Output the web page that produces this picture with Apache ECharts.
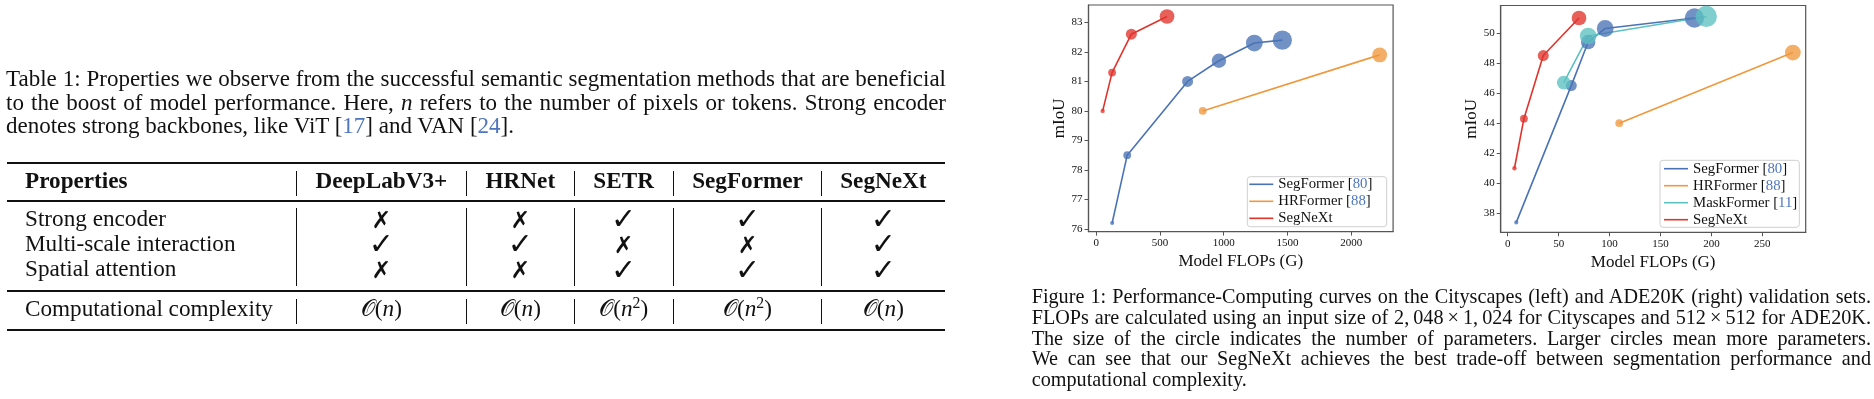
<!DOCTYPE html>
<html>
<head>
<meta charset="utf-8">
<script src="https://cdn.jsdelivr.net/npm/echarts@6/dist/echarts.min.js"></script>
<style>
html,body{margin:0;padding:0;background:#fff;}
#wrap{position:relative;width:1874px;height:399px;overflow:hidden;background:#fff;}
#chart{position:absolute;left:0;top:0;width:1874px;height:399px;}
.t{position:absolute;font-family:"Liberation Serif","Times New Roman",serif;color:#111;white-space:nowrap;}
.ref{color:#4f76bd;}
.rule{position:absolute;background:#111;}
.mk{position:absolute;font-family:"DejaVu Sans",sans-serif;font-weight:bold;color:#111;text-align:center;white-space:nowrap;}
sup.s{font-size:0.68em;position:relative;top:-0.5em;vertical-align:baseline;line-height:0;}
</style>
</head>
<body>
<div id="wrap">
  <div id="chart"></div>
  <div id="txt"></div>
</div>
<script>
// ---------------- DATA ----------------
// Cityscapes (left plot): FLOPs (G), mIoU, params (M)
const csSegFormerFlops = [125.5, 243.7, 717.1, 962.9, 1240.6, 1460.4];
const csSegFormerMiou  = [76.2, 78.5, 81.0, 81.7, 82.3, 82.4];
const csSegFormerParams = [3.8, 13.7, 27.5, 47.3, 64.1, 84.7];
const csHRFormerFlops = [835.7, 2223.8];
const csHRFormerMiou  = [80.0, 81.9];
const csHRFormerParams = [13.5, 50.3];
const csSegNeXtFlops = [51, 125, 276, 556];
const csSegNeXtMiou  = [80.0, 81.3, 82.6, 83.2];
const csSegNeXtParams = [4.3, 13.9, 27.6, 48.9];
// ADE20K (right plot)
const adeSegFormerFlops = [8.4, 62.4, 79.0, 95.7, 183.3];
const adeSegFormerMiou  = [37.4, 46.5, 49.4, 50.3, 51.0];
const adeSegFormerParams = [3.8, 27.5, 47.3, 64.1, 84.7];
const adeHRFormerFlops = [109.5, 280.0];
const adeHRFormerMiou  = [44.0, 48.7];
const adeHRFormerParams = [13.5, 56.2];
const adeMaskFormerFlops = [55, 79, 195];
const adeMaskFormerMiou  = [46.7, 49.8, 51.1];
const adeMaskFormerParams = [42, 63, 102];
const adeSegNeXtFlops = [6.6, 15.9, 34.9, 70.0];
const adeSegNeXtMiou  = [41.0, 44.3, 48.5, 51.0];
const adeSegNeXtParams = [4.3, 13.9, 27.6, 48.9];
// tick labels
const csXTicks = [0, 500, 1000, 1500, 2000];
const csYTicks = [76, 77, 78, 79, 80, 81, 82, 83];
const adeXTicks = [0, 50, 100, 150, 200, 250];
const adeYTicks = [38, 40, 42, 44, 46, 48, 50];
// legend names and citation numbers
const methodNames = ['SegFormer', 'HRFormer', 'MaskFormer', 'SegNeXt'];
const methodRefs = ['80', '88', '11', ''];
// table
const tableHeader = ['Properties', 'DeepLabV3+', 'HRNet', 'SETR', 'SegFormer', 'SegNeXt'];
const tableRowNames = ['Strong encoder', 'Multi-scale interaction', 'Spatial attention'];
const strongEncoder = [0, 0, 1, 1, 1];
const multiScale    = [1, 1, 0, 0, 1];
const spatialAttn   = [0, 0, 1, 1, 1];
const complexityRow = 'Computational complexity';
const complexityExp = [1, 1, 2, 2, 1];

// ---------------- STYLE ----------------
const FONT = '"Liberation Serif","Times New Roman",serif';
const COLORS = {SegFormer:'#4a73b6', HRFormer:'#f0983c', MaskFormer:'#5cc2c0', SegNeXt:'#e0332b'};
const REFBLUE = '#4f76bd';

// ---------------- TEXT / TABLE (HTML) ----------------
const txt = document.getElementById('txt');
function addText(html, left, baseline, fs, opts) {
  opts = opts || {};
  const d = document.createElement('div');
  d.className = 't';
  d.innerHTML = html;
  d.style.fontSize = fs + 'px';
  d.style.lineHeight = fs + 'px';
  d.style.top = (baseline - 0.8375 * fs) + 'px';
  d.style.left = left + 'px';
  if (opts.width) d.style.width = opts.width + 'px';
  if (opts.center) d.style.textAlign = 'center';
  if (opts.bold) d.style.fontWeight = 'bold';
  if (opts.justify) d.dataset.justify = '1';
  txt.appendChild(d);
  return d;
}
function addRule(x, y, w, h) {
  const d = document.createElement('div');
  d.className = 'rule';
  d.style.left = x + 'px'; d.style.top = y + 'px';
  d.style.width = w + 'px'; d.style.height = h + 'px';
  txt.appendChild(d);
}
function addMark(ch, left, width, cy, fs) {
  const d = document.createElement('div');
  d.className = 'mk';
  d.textContent = ch;
  d.style.fontSize = fs + 'px';
  d.style.lineHeight = '34px';
  d.style.height = '34px';
  d.style.top = (cy - 17) + 'px';
  d.style.left = left + 'px';
  d.style.width = width + 'px';
  txt.appendChild(d);
}

// Left caption
const CF = 23.0;
addText('Table 1: Properties we observe from the successful semantic segmentation methods that are beneficial', 6, 86.7, CF, {width:940, justify:true});
addText('to the boost of model performance. Here, <i>n</i> refers to the number of pixels or tokens. Strong encoder', 6, 110.0, CF, {width:940, justify:true});
addText('denotes strong backbones, like ViT [<span class="ref">17</span>] and VAN [<span class="ref">24</span>].', 6, 133.3, CF);

// Table
const TF = 23.2;
const colBounds = [296, 466.7, 574, 673.3, 821.7, 945];
addRule(7.3, 162.3, 937.7, 2);
addRule(7.3, 200.4, 937.7, 1.2);
addRule(7.3, 290.4, 937.7, 1.2);
addRule(7.3, 329, 937.7, 2);
const vSegs = [[170.7, 196], [208.3, 285.7], [299, 324.3]];
for (let i = 0; i < 5; i++) {
  vSegs.forEach(s => addRule(colBounds[i] - 0.5, s[0], 1, s[1] - s[0]));
}
addText(tableHeader[0], 25, 188.3, TF, {bold:true});
for (let i = 0; i < 5; i++) {
  addText(tableHeader[i + 1], colBounds[i], 188.3, TF, {bold:true, center:true, width:colBounds[i + 1] - colBounds[i]});
}
const rowBase = [226, 251.7, 276.7];
const rowMid = [219.5, 244.5, 270];
const rowVals = [strongEncoder, multiScale, spatialAttn];
tableRowNames.forEach((n, r) => {
  addText(n, 25, rowBase[r], TF);
  rowVals[r].forEach((v, i) => {
    if (v) addMark('\u2713', colBounds[i], colBounds[i + 1] - colBounds[i], rowMid[r] - 0.5, 30);
    else addMark('\u2717', colBounds[i], colBounds[i + 1] - colBounds[i], rowMid[r], 23.5);
  });
});
addText(complexityRow, 25, 316.7, TF);
complexityExp.forEach((e, i) => {
  const inner = e === 1 ? '<i>n</i>' : '<i>n</i><sup class="s">' + e + '</sup>';
  addText('\uD835\uDCAA(' + inner + ')', colBounds[i], 316.7, TF, {center:true, width:colBounds[i + 1] - colBounds[i]});
});

// Right caption
const RF = 20.2;
const rcLeft = 1031.7, rcW = 839.3;
const rcBase = [302.7, 323.6, 344.5, 365.4, 386.3];
addText('Figure 1: Performance-Computing curves on the Cityscapes (left) and ADE20K (right) validation sets.', rcLeft, rcBase[0], RF, {width:rcW, justify:true});
addText('FLOPs are calculated using an input size of 2,\u2009048\u2009\u00D7\u20091,\u2009024 for Cityscapes and 512\u2009\u00D7\u2009512 for ADE20K.', rcLeft, rcBase[1], RF, {width:rcW, justify:true});
addText('The size of the circle indicates the number of parameters.  Larger circles mean more parameters.', rcLeft, rcBase[2], RF, {width:rcW, justify:true});
addText('We can see that our SegNeXt achieves the best trade-off between segmentation performance and', rcLeft, rcBase[3], RF, {width:rcW, justify:true});
addText('computational complexity.', rcLeft, rcBase[4], RF);

// Justify fitter
document.querySelectorAll('[data-justify]').forEach(el => {
  const target = parseFloat(el.style.width);
  const baseTop = parseFloat(el.style.top);
  let fs = parseFloat(el.style.fontSize);
  const baseline = baseTop + 0.8375 * fs;
  el.style.width = 'auto';
  const w = el.getBoundingClientRect().width;
  if (w > target - 1) {
    fs = fs * (target - 1) / w;
    el.style.fontSize = fs + 'px';
    el.style.lineHeight = fs + 'px';
    el.style.top = (baseline - 0.8375 * fs) + 'px';
  }
  el.style.width = target + 'px';
  el.style.whiteSpace = 'normal';
  el.style.textAlign = 'justify';
  el.style.textAlignLast = 'justify';
});

// ---------------- CHARTS (ECharts) ----------------
function zip(xs, ys, ps) { return xs.map((x, i) => [x, ys[i], ps[i]]); }
function xAxis(gi, min, max, ticks) {
  return {
    type:'value', gridIndex:gi, min:min, max:max,
    name:'Model FLOPs (G)', nameLocation:'middle', nameGap:19,
    nameTextStyle:{fontFamily:FONT, fontSize:17, color:'#111', verticalAlign:'top'},
    axisLine:{show:true, onZero:false, lineStyle:{color:'#555', width:1.2}},
    axisTick:{show:true, inside:false, length:4, customValues:ticks, lineStyle:{color:'#555', width:1}},
    axisLabel:{show:true, customValues:ticks, margin:6, fontFamily:FONT, fontSize:11, color:'#111', formatter:v => String(v)},
    splitLine:{show:false}
  };
}
function yAxis(gi, min, max, ticks) {
  return {
    type:'value', gridIndex:gi, min:min, max:max,
    name:'mIoU', nameLocation:'middle', nameGap:20, nameRotate:90,
    nameTextStyle:{fontFamily:FONT, fontSize:17, color:'#111'},
    axisLine:{show:true, onZero:false, lineStyle:{color:'#555', width:1.2}},
    axisTick:{show:true, inside:false, length:4, customValues:ticks, lineStyle:{color:'#555', width:1}},
    axisLabel:{show:true, customValues:ticks, margin:6, fontFamily:FONT, fontSize:11, color:'#111', formatter:v => String(v)},
    splitLine:{show:false}
  };
}
function seriesPair(name, gi, xs, ys, ps) {
  const c = COLORS[name];
  const data = zip(xs, ys, ps);
  return [
    {type:'line', name:name, xAxisIndex:gi, yAxisIndex:gi, data:data, symbol:'none', showSymbol:false,
     color:c, lineStyle:{color:c, width:1.6}, itemStyle:{color:c}, silent:true, animation:false, z:2},
    {type:'scatter', name:name + ' pts', xAxisIndex:gi, yAxisIndex:gi, data:data,
     symbolSize:d => 2.1 * Math.sqrt(d[2]), itemStyle:{color:c, opacity:0.78}, silent:true, animation:false, z:2}
  ];
}
function legendFmt(name) {
  const idx = methodNames.indexOf(name);
  const r = methodRefs[idx];
  return r ? name + ' [{c|' + r + '}]' : name;
}
function legend(left, top, names, lh) {
  return {
    orient:'vertical', left:left, top:top, data:names, icon:'rect', itemWidth:24, itemHeight:1.6, itemGap:2,
    padding:0, backgroundColor:'transparent', borderWidth:0, z:5,
    selectedMode:false, formatter:legendFmt,
    textStyle:{fontFamily:FONT, fontSize:14.8, color:'#111', lineHeight:lh,
      rich:{c:{fontFamily:FONT, fontSize:14.8, color:REFBLUE, lineHeight:lh}}}
  };
}
function legendBox(x0, y0, x1, y1) {
  return {type:'rect', z:4, silent:true, shape:{x:x0, y:y0, width:x1 - x0, height:y1 - y0, r:3},
    style:{fill:'rgba(255,255,255,0.85)', stroke:'#cfcfcf', lineWidth:1}};
}

const chart = echarts.init(document.getElementById('chart'));
const option = {
  animation:false,
  backgroundColor:'transparent',
  grid:[
    {left:1088.5, top:5, width:304.6, height:226.6, show:true, borderColor:'#555', borderWidth:1.2, backgroundColor:'transparent'},
    {left:1500.7, top:5.5, width:305, height:226.8, show:true, borderColor:'#555', borderWidth:1.2, backgroundColor:'transparent'}
  ],
  xAxis:[xAxis(0, -60, 2329, csXTicks), xAxis(1, -6.9, 292.6, adeXTicks)],
  yAxis:[yAxis(0, 75.91, 83.59, csYTicks), yAxis(1, 36.74, 51.83, adeYTicks)],
  graphic:[legendBox(1247.3, 176.7, 1386.7, 226.7), legendBox(1660, 160.3, 1799.3, 227.3)],
  legend:[
    legend(1249.3, 176.8, ['SegFormer', 'HRFormer', 'SegNeXt'], 15),
    legend(1664, 161.2, ['SegFormer', 'HRFormer', 'MaskFormer', 'SegNeXt'], 13.9)
  ],
  series:[].concat(
    seriesPair('SegFormer', 0, csSegFormerFlops, csSegFormerMiou, csSegFormerParams),
    seriesPair('HRFormer', 0, csHRFormerFlops, csHRFormerMiou, csHRFormerParams),
    seriesPair('SegNeXt', 0, csSegNeXtFlops, csSegNeXtMiou, csSegNeXtParams),
    seriesPair('SegFormer', 1, adeSegFormerFlops, adeSegFormerMiou, adeSegFormerParams),
    seriesPair('HRFormer', 1, adeHRFormerFlops, adeHRFormerMiou, adeHRFormerParams),
    seriesPair('MaskFormer', 1, adeMaskFormerFlops, adeMaskFormerMiou, adeMaskFormerParams),
    seriesPair('SegNeXt', 1, adeSegNeXtFlops, adeSegNeXtMiou, adeSegNeXtParams)
  )
};
chart.setOption(option);
</script>
</body>
</html>
